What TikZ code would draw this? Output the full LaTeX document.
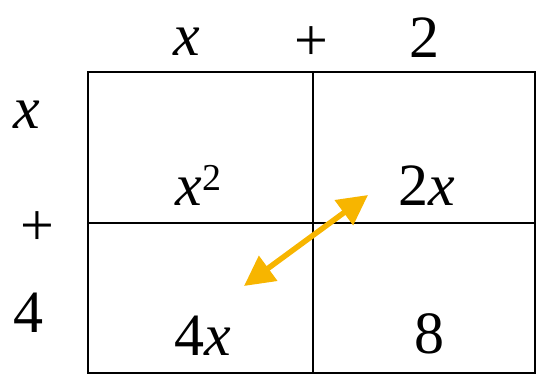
\documentclass[tikz,border=0pt]{standalone}
\usepackage{fontspec}
\setmainfont{Liberation Serif}
\newfontfamily\tms{Liberation Serif}
\usetikzlibrary{arrows.meta}
\definecolor{arrowor}{HTML}{F7B500}
\begin{document}
\begin{tikzpicture}[x=1pt,y=-1pt,
  lbl/.style={anchor=base,inner sep=0pt,font=\tms\fontsize{60}{60}\selectfont},
  suplbl/.style={anchor=base west,inner sep=0pt,font=\tms\fontsize{38}{38}\selectfont},
  gridline/.style={line width=1.3pt,black},
  dbl/.style={line width=5.5pt,arrowor,{Triangle[length=30pt,width=30pt]}-{Triangle[length=30pt,width=30pt]}}]
\useasboundingbox (0,0) rectangle (536,375);
\draw[gridline] (88,72) rectangle (535,373);
\draw[gridline] (313,72) -- (313,373);
\draw[gridline] (88,223) -- (535,223);
% top labels
\node[lbl] (tx) at (187,55) {\textit{x}};
\node[lbl] (tp) at (311,60) {+};
\node[lbl] (t2) at (424,57) {2};
% left labels
\node[lbl] (lx) at (27,128) {\textit{x}};
\node[lbl] (lp) at (37,245) {+};
\node[lbl] (l4) at (28,332) {4};
% cells
\node[lbl] (c11) at (189,205) {\textit{x}};
\node[suplbl] (c11s) at (202,190) {2};
\node[lbl] (c12) at (427,205) {2\textit{x}};
\node[lbl] (c21) at (203,355) {4\textit{x}};
\node[lbl] (c22) at (429,353) {8};
% arrow
\coordinate (a1) at (244,286);
\coordinate (a2) at (368,195);
\draw[dbl] (a1) -- (a2);
\end{tikzpicture}
\end{document}
